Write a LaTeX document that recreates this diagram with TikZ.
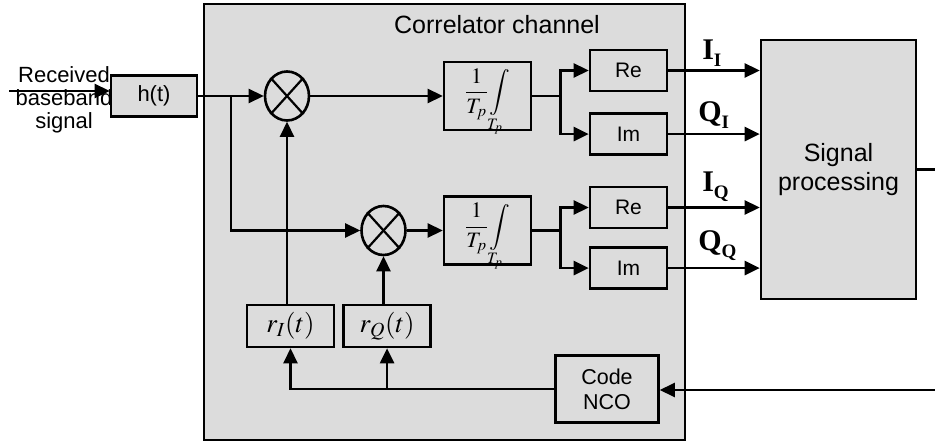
\RequirePackage{fix-cm}
\documentclass[tikz,border=0pt]{standalone}
\usepackage{mathptmx}
\usepackage{exscale}
\usepackage[no-math]{fontspec}
\setmainfont{Liberation Sans}
\newfontfamily\labelfont{Liberation Serif}
\usetikzlibrary{shapes.geometric, arrows.meta, positioning, calc}
\definecolor{panelgray}{RGB}{220,220,220}
\DeclareSymbolFont{cmlarge}{OMX}{cmex}{m}{n}
\DeclareMathSymbol{\cmint}{\mathop}{cmlarge}{"52}
\newcommand{\chanlabel}[2]{{\labelfont\bfseries\fontsize{30}{30}\selectfont #1\raisebox{-7pt}{\fontsize{19}{19}\selectfont #2}}}
\newcommand{\avgint}{$\displaystyle\frac{1}{T_p}$\kern1pt{\fontsize{21.5}{24}\selectfont$\displaystyle\cmint_{T_p}$}}

\begin{document}
\begin{tikzpicture}[
        x=1pt, y=-1pt,
        line width=2.6pt,
        node distance=20pt and 7pt,
        box/.style={rectangle, draw=black, fill=panelgray, inner sep=0pt, minimum width=77pt, minimum height=41pt, align=center, font=\fontsize{21}{25}\selectfont},
        intbox/.style={box, minimum width=87pt, minimum height=68pt, text height=30pt, text depth=26pt, font=\fontsize{22}{24}\selectfont},
        refbox/.style={box, minimum width=87pt, minimum height=42pt, font=\fontsize{27}{30}\selectfont},
        mixer/.style={ellipse, draw=black, fill=panelgray, inner sep=0pt, minimum width=44pt, minimum height=49pt},
        arrow/.style={-{Triangle[length=15pt, width=14pt]}, draw=black}
    ]
        \useasboundingbox (0,0) rectangle (935,441);
        \node[box, minimum width=481pt, minimum height=436pt] (corr) at (444.5,222) {};
        \node[font=\fontsize{25}{28}\selectfont] (corrtitle) at (497,25) {Correlator channel};

        \node[font=\fontsize{22}{23}\selectfont, align=center] (rxlabel) at (64,100) {Received\\baseband\\signal};
        \node[box, minimum width=86pt, font=\fontsize{22}{26}\selectfont] (hfilt) at (154,96) {h(t)};

        \node[mixer] (mixI) at (287,96) {};
        \node[mixer] (mixQ) at (383.5,230.5) {};
        \draw[line width=2.2pt] (mixI.north west) -- (mixI.south east) (mixI.north east) -- (mixI.south west);
        \draw[line width=2.2pt] (mixQ.north west) -- (mixQ.south east) (mixQ.north east) -- (mixQ.south west);

        \node[intbox] (intI) at (487.5,96) {\avgint};
        \node[intbox] (intQ) at (487.5,230.5) {\avgint};

        \node[box] (reI) at (628.5,70.5) {Re};
        \node[box, below=of reI] (imI) {Im};
        \node[box] (reQ) at (628.5,207.5) {Re};
        \node[box, below=17pt of reQ] (imQ) {Im};

        \node[box, minimum width=155pt, minimum height=259pt, font=\fontsize{25}{29}\selectfont] (sigproc) at (838.5,169.5) {Signal\\processing};

        \node[refbox] (rI) at (290.5,326) {$r_I(t)$};
        \node[refbox, right=of rI] (rQ) {$r_Q(t)$};
        \node[box, minimum width=103pt, minimum height=67pt, font=\fontsize{21.5}{25}\selectfont] (nco) at (607,389) {Code\\NCO};

        \coordinate (rxin) at (9,91);
        \coordinate (split) at (231,96);
        \coordinate (forkI) at ($(intI.east)+(28,0)$);
        \coordinate (forkQ) at ($(intQ.east)+(28,0)$);
        \coordinate (spout) at (935,168);
        \coordinate (fbin) at (935,390);

        \draw[arrow] (rxin) -- (rxin -| hfilt.west);
        \draw[arrow] (hfilt.east) -- (mixI.west);
        \draw[arrow] (split) |- (mixQ.west);
        \draw[arrow] (mixI.east) -- (intI.west);
        \draw[arrow] (mixQ.east) -- (intQ.west);

        \draw (intI.east) -- (forkI);
        \draw[arrow] (forkI) |- (reI.west);
        \draw[arrow] (forkI) |- (imI.west);
        \draw (intQ.east) -- (forkQ);
        \draw[arrow] (forkQ) |- (reQ.west);
        \draw[arrow] (forkQ) |- (imQ.west);

        \draw[arrow] (reI.east) -- (reI.east -| sigproc.west);
        \draw[arrow] (imI.east) -- (imI.east -| sigproc.west);
        \draw[arrow] (reQ.east) -- (reQ.east -| sigproc.west);
        \draw[arrow] (imQ.east) -- (imQ.east -| sigproc.west);

        \node[anchor=base west, inner sep=0pt] (lblII) at (701,60) {\chanlabel{I}{I}};
        \node[anchor=base west, inner sep=0pt] (lblQI) at (697,122) {\chanlabel{Q}{I}};
        \node[anchor=base west, inner sep=0pt] (lblIQ) at (701,192) {\chanlabel{I}{Q}};
        \node[anchor=base west, inner sep=0pt] (lblQQ) at (697,250) {\chanlabel{Q}{Q}};

        \draw (sigproc.east) -- (sigproc.east -| spout);
        \draw[arrow] (fbin) -- (fbin -| nco.east);
        \draw[arrow] (nco.west) -| (rI.south);
        \draw[arrow] (rQ.south |- nco.west) -- (rQ.south);
        \draw[arrow] (rI.north -| mixI.south) -- (mixI.south);
        \draw[arrow] (rQ.north -| mixQ.south) -- (mixQ.south);
    \end{tikzpicture}
\end{document}
